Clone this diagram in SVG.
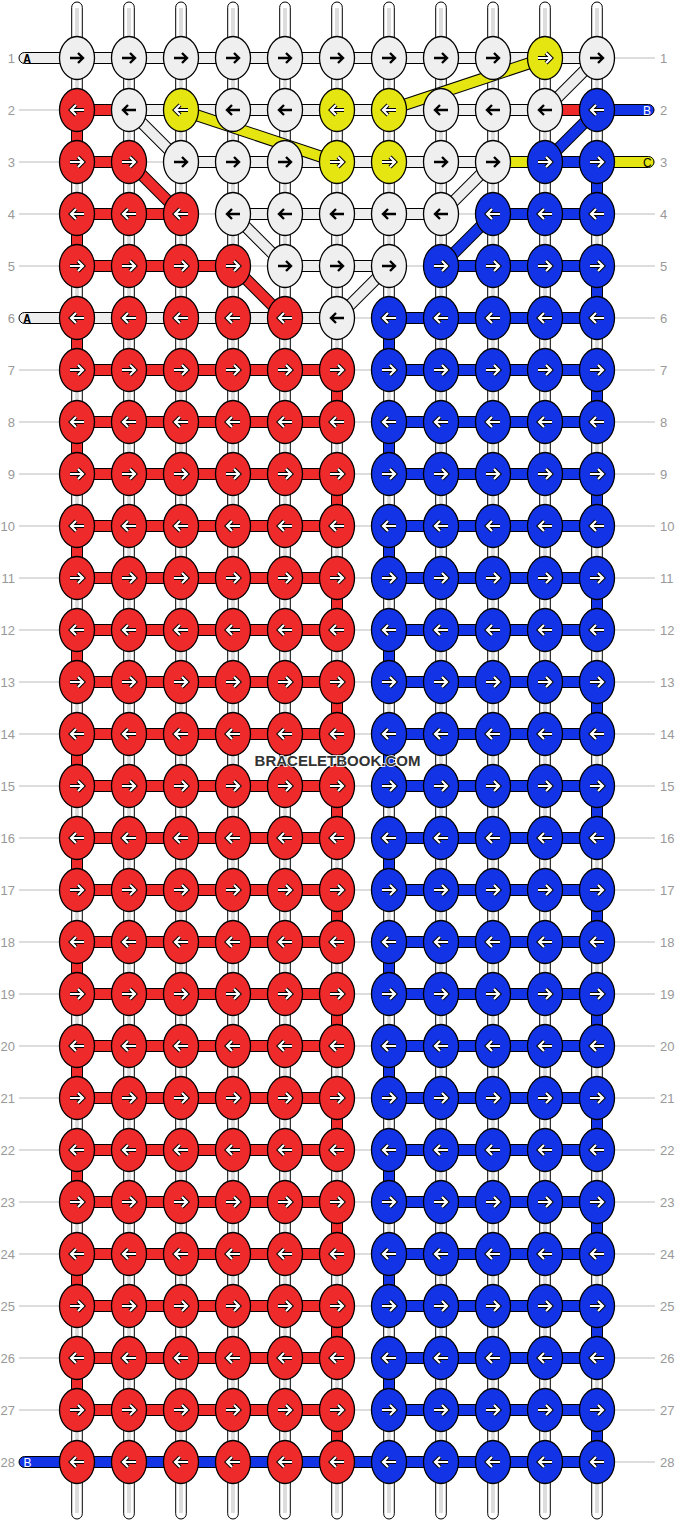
<svg xmlns="http://www.w3.org/2000/svg" xmlns:xlink="http://www.w3.org/1999/xlink" width="675" height="1521" viewBox="0 0 675 1521">
<style>
.warp{fill:#fff;stroke:#000;stroke-width:1}
.stripe{fill:#ddd}
.rowline{fill:none;stroke:#bbb;stroke-width:1}
.num{font-family:"Liberation Sans",Arial,sans-serif;font-size:13px;fill:#999}
.sw{fill:#eee;stroke:#000;stroke-width:1}
.sr{fill:#ee2a2a;stroke:#000;stroke-width:1}
.sb{fill:#1334e6;stroke:#000;stroke-width:1}
.sy{fill:#e5e512;stroke:#000;stroke-width:1}
.dout{fill:none;stroke:#000;stroke-width:12}
.dw{fill:none;stroke:#eee;stroke-width:10}
.dr{fill:none;stroke:#ee2a2a;stroke-width:10}
.db{fill:none;stroke:#1334e6;stroke-width:10}
.dy{fill:none;stroke:#e5e512;stroke-width:10}
.kw{fill:#efefef;stroke:#000;stroke-width:1.3}
.kr{fill:#ee2a2a;stroke:#000;stroke-width:1.3}
.kb{fill:#1334e6;stroke:#000;stroke-width:1.3}
.ky{fill:#e5e512;stroke:#000;stroke-width:1.3}
.ab{fill:none;stroke:#000;stroke-width:2.4}
.ao{fill:none;stroke:#000;stroke-width:4.2}
.aw{fill:none;stroke:#fff;stroke-width:2.2}
.lab{font-family:"Liberation Sans",Arial,sans-serif;font-size:12px}
.labm{font-family:"Liberation Mono","Courier New",monospace;font-size:12px;font-weight:bold}
</style>
<defs>
<path id="pR" d="M-7,0H6M1,-5L6,0L1,5"/>
<path id="pL" d="M7,0H-6M-1,-5L-6,0L-1,5"/>
<g id="WR"><ellipse class="kw" rx="17.5" ry="21.5"/><use href="#pR" class="ab"/></g>
<g id="WL"><ellipse class="kw" rx="17.5" ry="21.5"/><use href="#pL" class="ab"/></g>
<g id="RR"><ellipse class="kr" rx="17.5" ry="21.5"/><use href="#pR" class="ao"/><use href="#pR" class="aw"/></g>
<g id="RL"><ellipse class="kr" rx="17.5" ry="21.5"/><use href="#pL" class="ao"/><use href="#pL" class="aw"/></g>
<g id="BR"><ellipse class="kb" rx="17.5" ry="21.5"/><use href="#pR" class="ao"/><use href="#pR" class="aw"/></g>
<g id="BL"><ellipse class="kb" rx="17.5" ry="21.5"/><use href="#pL" class="ao"/><use href="#pL" class="aw"/></g>
<g id="YR"><ellipse class="ky" rx="17.5" ry="21.5"/><use href="#pR" class="ao"/><use href="#pR" class="aw"/></g>
<g id="YL"><ellipse class="ky" rx="17.5" ry="21.5"/><use href="#pL" class="ao"/><use href="#pL" class="aw"/></g>
</defs>
<rect width="675" height="1521" fill="#fff"/>
<g id="warps">
<rect class="warp" x="71.7" y="2" width="10.6" height="1517" rx="5.3"/><rect class="stripe" x="75" y="8" width="4" height="1505"/>
<rect class="warp" x="123.7" y="2" width="10.6" height="1517" rx="5.3"/><rect class="stripe" x="127" y="8" width="4" height="1505"/>
<rect class="warp" x="175.7" y="2" width="10.6" height="1517" rx="5.3"/><rect class="stripe" x="179" y="8" width="4" height="1505"/>
<rect class="warp" x="227.7" y="2" width="10.6" height="1517" rx="5.3"/><rect class="stripe" x="231" y="8" width="4" height="1505"/>
<rect class="warp" x="279.7" y="2" width="10.6" height="1517" rx="5.3"/><rect class="stripe" x="283" y="8" width="4" height="1505"/>
<rect class="warp" x="331.7" y="2" width="10.6" height="1517" rx="5.3"/><rect class="stripe" x="335" y="8" width="4" height="1505"/>
<rect class="warp" x="383.7" y="2" width="10.6" height="1517" rx="5.3"/><rect class="stripe" x="387" y="8" width="4" height="1505"/>
<rect class="warp" x="435.7" y="2" width="10.6" height="1517" rx="5.3"/><rect class="stripe" x="439" y="8" width="4" height="1505"/>
<rect class="warp" x="487.7" y="2" width="10.6" height="1517" rx="5.3"/><rect class="stripe" x="491" y="8" width="4" height="1505"/>
<rect class="warp" x="539.7" y="2" width="10.6" height="1517" rx="5.3"/><rect class="stripe" x="543" y="8" width="4" height="1505"/>
<rect class="warp" x="591.7" y="2" width="10.6" height="1517" rx="5.3"/><rect class="stripe" x="595" y="8" width="4" height="1505"/>
</g>
<g id="rows">
<path class="rowline" d="M19,58H655M19,110H655M19,162H655M19,214H655M19,266H655M19,318H655M19,370H655M19,422H655M19,474H655M19,526H655M19,578H655M19,630H655M19,682H655M19,734H655M19,786H655M19,838H655M19,890H655M19,942H655M19,994H655M19,1046H655M19,1098H655M19,1150H655M19,1202H655M19,1254H655M19,1306H655M19,1358H655M19,1410H655M19,1462H655"/>
<g class="num" text-anchor="end">
<text x="15" y="62.5">1</text><text x="15" y="114.5">2</text><text x="15" y="166.5">3</text><text x="15" y="218.5">4</text><text x="15" y="270.5">5</text><text x="15" y="322.5">6</text><text x="15" y="374.5">7</text><text x="15" y="426.5">8</text><text x="15" y="478.5">9</text><text x="15" y="530.5">10</text><text x="15" y="582.5">11</text><text x="15" y="634.5">12</text><text x="15" y="686.5">13</text><text x="15" y="738.5">14</text><text x="15" y="790.5">15</text><text x="15" y="842.5">16</text><text x="15" y="894.5">17</text><text x="15" y="946.5">18</text><text x="15" y="998.5">19</text><text x="15" y="1050.5">20</text><text x="15" y="1102.5">21</text><text x="15" y="1154.5">22</text><text x="15" y="1206.5">23</text><text x="15" y="1258.5">24</text><text x="15" y="1310.5">25</text><text x="15" y="1362.5">26</text><text x="15" y="1414.5">27</text><text x="15" y="1466.5">28</text>
</g>
<g class="num">
<text x="660" y="62.5">1</text><text x="660" y="114.5">2</text><text x="660" y="166.5">3</text><text x="660" y="218.5">4</text><text x="660" y="270.5">5</text><text x="660" y="322.5">6</text><text x="660" y="374.5">7</text><text x="660" y="426.5">8</text><text x="660" y="478.5">9</text><text x="660" y="530.5">10</text><text x="660" y="582.5">11</text><text x="660" y="634.5">12</text><text x="660" y="686.5">13</text><text x="660" y="738.5">14</text><text x="660" y="790.5">15</text><text x="660" y="842.5">16</text><text x="660" y="894.5">17</text><text x="660" y="946.5">18</text><text x="660" y="998.5">19</text><text x="660" y="1050.5">20</text><text x="660" y="1102.5">21</text><text x="660" y="1154.5">22</text><text x="660" y="1206.5">23</text><text x="660" y="1258.5">24</text><text x="660" y="1310.5">25</text><text x="660" y="1362.5">26</text><text x="660" y="1414.5">27</text><text x="660" y="1466.5">28</text>
</g>
</g>
<g id="connectors">
<g id="vertical-turns">
<rect class="sr" x="71.5" y="110" width="11" height="52"/><rect class="sr" x="71.5" y="214" width="11" height="52"/><rect class="sr" x="71.5" y="318" width="11" height="52"/><rect class="sr" x="71.5" y="422" width="11" height="52"/><rect class="sr" x="71.5" y="526" width="11" height="52"/><rect class="sr" x="71.5" y="630" width="11" height="52"/><rect class="sr" x="71.5" y="734" width="11" height="52"/><rect class="sr" x="71.5" y="838" width="11" height="52"/><rect class="sr" x="71.5" y="942" width="11" height="52"/><rect class="sr" x="71.5" y="1046" width="11" height="52"/><rect class="sr" x="71.5" y="1150" width="11" height="52"/><rect class="sr" x="71.5" y="1254" width="11" height="52"/><rect class="sr" x="71.5" y="1358" width="11" height="52"/>
<rect class="sr" x="331.5" y="370" width="11" height="52"/><rect class="sr" x="331.5" y="474" width="11" height="52"/><rect class="sr" x="331.5" y="578" width="11" height="52"/><rect class="sr" x="331.5" y="682" width="11" height="52"/><rect class="sr" x="331.5" y="786" width="11" height="52"/><rect class="sr" x="331.5" y="890" width="11" height="52"/><rect class="sr" x="331.5" y="994" width="11" height="52"/><rect class="sr" x="331.5" y="1098" width="11" height="52"/><rect class="sr" x="331.5" y="1202" width="11" height="52"/><rect class="sr" x="331.5" y="1306" width="11" height="52"/><rect class="sr" x="331.5" y="1410" width="11" height="52"/>
<rect class="sb" x="383.5" y="318" width="11" height="52"/><rect class="sb" x="383.5" y="422" width="11" height="52"/><rect class="sb" x="383.5" y="526" width="11" height="52"/><rect class="sb" x="383.5" y="630" width="11" height="52"/><rect class="sb" x="383.5" y="734" width="11" height="52"/><rect class="sb" x="383.5" y="838" width="11" height="52"/><rect class="sb" x="383.5" y="942" width="11" height="52"/><rect class="sb" x="383.5" y="1046" width="11" height="52"/><rect class="sb" x="383.5" y="1150" width="11" height="52"/><rect class="sb" x="383.5" y="1254" width="11" height="52"/><rect class="sb" x="383.5" y="1358" width="11" height="52"/>
<rect class="sb" x="591.5" y="162" width="11" height="52"/><rect class="sb" x="591.5" y="266" width="11" height="52"/><rect class="sb" x="591.5" y="370" width="11" height="52"/><rect class="sb" x="591.5" y="474" width="11" height="52"/><rect class="sb" x="591.5" y="578" width="11" height="52"/><rect class="sb" x="591.5" y="682" width="11" height="52"/><rect class="sb" x="591.5" y="786" width="11" height="52"/><rect class="sb" x="591.5" y="890" width="11" height="52"/><rect class="sb" x="591.5" y="994" width="11" height="52"/><rect class="sb" x="591.5" y="1098" width="11" height="52"/><rect class="sb" x="591.5" y="1202" width="11" height="52"/><rect class="sb" x="591.5" y="1306" width="11" height="52"/><rect class="sb" x="591.5" y="1410" width="11" height="52"/>
</g>
<g id="horizontal">
<rect class="sw" x="19" y="52.5" width="578" height="11" rx="5.5"/>
<rect class="sr" x="77" y="104.5" width="52" height="11"/><rect class="sw" x="129" y="104.5" width="416" height="11"/><rect class="sr" x="545" y="104.5" width="52" height="11"/><rect class="sb" x="590" y="104.5" width="64" height="11" rx="5.5"/>
<rect class="sr" x="77" y="156.5" width="52" height="11"/><rect class="sw" x="181" y="156.5" width="312" height="11"/><rect class="sy" x="493" y="156.5" width="52" height="11"/><rect class="sb" x="545" y="156.5" width="52" height="11"/><rect class="sy" x="590" y="156.5" width="64" height="11" rx="5.5"/>
<rect class="sr" x="77" y="208.5" width="104" height="11"/><rect class="sw" x="233" y="208.5" width="208" height="11"/><rect class="sb" x="493" y="208.5" width="104" height="11"/>
<rect class="sr" x="77" y="260.5" width="156" height="11"/><rect class="sw" x="285" y="260.5" width="104" height="11"/><rect class="sb" x="441" y="260.5" width="156" height="11"/>
<rect class="sw" x="19" y="312.5" width="318" height="11" rx="5.5"/><rect class="sb" x="389" y="312.5" width="208" height="11"/>
<rect class="sr" x="77" y="364.5" width="260" height="11"/><rect class="sb" x="389" y="364.5" width="208" height="11"/>
<rect class="sr" x="77" y="416.5" width="260" height="11"/><rect class="sb" x="389" y="416.5" width="208" height="11"/>
<rect class="sr" x="77" y="468.5" width="260" height="11"/><rect class="sb" x="389" y="468.5" width="208" height="11"/>
<rect class="sr" x="77" y="520.5" width="260" height="11"/><rect class="sb" x="389" y="520.5" width="208" height="11"/>
<rect class="sr" x="77" y="572.5" width="260" height="11"/><rect class="sb" x="389" y="572.5" width="208" height="11"/>
<rect class="sr" x="77" y="624.5" width="260" height="11"/><rect class="sb" x="389" y="624.5" width="208" height="11"/>
<rect class="sr" x="77" y="676.5" width="260" height="11"/><rect class="sb" x="389" y="676.5" width="208" height="11"/>
<rect class="sr" x="77" y="728.5" width="260" height="11"/><rect class="sb" x="389" y="728.5" width="208" height="11"/>
<rect class="sr" x="77" y="780.5" width="260" height="11"/><rect class="sb" x="389" y="780.5" width="208" height="11"/>
<rect class="sr" x="77" y="832.5" width="260" height="11"/><rect class="sb" x="389" y="832.5" width="208" height="11"/>
<rect class="sr" x="77" y="884.5" width="260" height="11"/><rect class="sb" x="389" y="884.5" width="208" height="11"/>
<rect class="sr" x="77" y="936.5" width="260" height="11"/><rect class="sb" x="389" y="936.5" width="208" height="11"/>
<rect class="sr" x="77" y="988.5" width="260" height="11"/><rect class="sb" x="389" y="988.5" width="208" height="11"/>
<rect class="sr" x="77" y="1040.5" width="260" height="11"/><rect class="sb" x="389" y="1040.5" width="208" height="11"/>
<rect class="sr" x="77" y="1092.5" width="260" height="11"/><rect class="sb" x="389" y="1092.5" width="208" height="11"/>
<rect class="sr" x="77" y="1144.5" width="260" height="11"/><rect class="sb" x="389" y="1144.5" width="208" height="11"/>
<rect class="sr" x="77" y="1196.5" width="260" height="11"/><rect class="sb" x="389" y="1196.5" width="208" height="11"/>
<rect class="sr" x="77" y="1248.5" width="260" height="11"/><rect class="sb" x="389" y="1248.5" width="208" height="11"/>
<rect class="sr" x="77" y="1300.5" width="260" height="11"/><rect class="sb" x="389" y="1300.5" width="208" height="11"/>
<rect class="sr" x="77" y="1352.5" width="260" height="11"/><rect class="sb" x="389" y="1352.5" width="208" height="11"/>
<rect class="sr" x="77" y="1404.5" width="260" height="11"/><rect class="sb" x="389" y="1404.5" width="208" height="11"/>
<rect class="sb" x="19" y="1456.5" width="578" height="11" rx="5.5"/>
</g>
<g id="diagonals">
<path class="dout" d="M597,58L545,110M129,110L181,162M493,162L441,214M233,214L285,266M389,266L337,318M545,58L389,110M181,110L337,162M129,162L181,214M233,266L285,318M597,110L545,162M493,214L441,266"/>
<path class="dw" d="M597,58L545,110M129,110L181,162M493,162L441,214M233,214L285,266M389,266L337,318"/>
<path class="dy" d="M545,58L389,110M181,110L337,162"/>
<path class="dr" d="M129,162L181,214M233,266L285,318"/>
<path class="db" d="M597,110L545,162M493,214L441,266"/>
</g>
<g id="string-labels">
<text class="labm" x="23.5" y="62.5">A</text>
<text class="lab" x="643" y="114.5" fill="#fff">B</text>
<text class="lab" x="643" y="166.5" fill="#000">C</text>
<text class="labm" x="23.5" y="322.5">A</text>
<text class="lab" x="23.5" y="1466.5" fill="#fff">B</text>
</g>
</g>
<g id="knots">
<g id="k1-1" transform="translate(77,58)"><use href="#WR"/></g><g id="k1-2" transform="translate(129,58)"><use href="#WR"/></g><g id="k1-3" transform="translate(181,58)"><use href="#WR"/></g><g id="k1-4" transform="translate(233,58)"><use href="#WR"/></g><g id="k1-5" transform="translate(285,58)"><use href="#WR"/></g><g id="k1-6" transform="translate(337,58)"><use href="#WR"/></g><g id="k1-7" transform="translate(389,58)"><use href="#WR"/></g><g id="k1-8" transform="translate(441,58)"><use href="#WR"/></g><g id="k1-9" transform="translate(493,58)"><use href="#WR"/></g><g id="k1-10" transform="translate(545,58)"><use href="#YR"/></g><g id="k1-11" transform="translate(597,58)"><use href="#WR"/></g>
<g id="k2-1" transform="translate(77,110)"><use href="#RL"/></g><g id="k2-2" transform="translate(129,110)"><use href="#WL"/></g><g id="k2-3" transform="translate(181,110)"><use href="#YL"/></g><g id="k2-4" transform="translate(233,110)"><use href="#WL"/></g><g id="k2-5" transform="translate(285,110)"><use href="#WL"/></g><g id="k2-6" transform="translate(337,110)"><use href="#YL"/></g><g id="k2-7" transform="translate(389,110)"><use href="#YL"/></g><g id="k2-8" transform="translate(441,110)"><use href="#WL"/></g><g id="k2-9" transform="translate(493,110)"><use href="#WL"/></g><g id="k2-10" transform="translate(545,110)"><use href="#WL"/></g><g id="k2-11" transform="translate(597,110)"><use href="#BL"/></g>
<g id="k3-1" transform="translate(77,162)"><use href="#RR"/></g><g id="k3-2" transform="translate(129,162)"><use href="#RR"/></g><g id="k3-3" transform="translate(181,162)"><use href="#WR"/></g><g id="k3-4" transform="translate(233,162)"><use href="#WR"/></g><g id="k3-5" transform="translate(285,162)"><use href="#WR"/></g><g id="k3-6" transform="translate(337,162)"><use href="#YR"/></g><g id="k3-7" transform="translate(389,162)"><use href="#YR"/></g><g id="k3-8" transform="translate(441,162)"><use href="#WR"/></g><g id="k3-9" transform="translate(493,162)"><use href="#WR"/></g><g id="k3-10" transform="translate(545,162)"><use href="#BR"/></g><g id="k3-11" transform="translate(597,162)"><use href="#BR"/></g>
<g id="k4-1" transform="translate(77,214)"><use href="#RL"/></g><g id="k4-2" transform="translate(129,214)"><use href="#RL"/></g><g id="k4-3" transform="translate(181,214)"><use href="#RL"/></g><g id="k4-4" transform="translate(233,214)"><use href="#WL"/></g><g id="k4-5" transform="translate(285,214)"><use href="#WL"/></g><g id="k4-6" transform="translate(337,214)"><use href="#WL"/></g><g id="k4-7" transform="translate(389,214)"><use href="#WL"/></g><g id="k4-8" transform="translate(441,214)"><use href="#WL"/></g><g id="k4-9" transform="translate(493,214)"><use href="#BL"/></g><g id="k4-10" transform="translate(545,214)"><use href="#BL"/></g><g id="k4-11" transform="translate(597,214)"><use href="#BL"/></g>
<g id="k5-1" transform="translate(77,266)"><use href="#RR"/></g><g id="k5-2" transform="translate(129,266)"><use href="#RR"/></g><g id="k5-3" transform="translate(181,266)"><use href="#RR"/></g><g id="k5-4" transform="translate(233,266)"><use href="#RR"/></g><g id="k5-5" transform="translate(285,266)"><use href="#WR"/></g><g id="k5-6" transform="translate(337,266)"><use href="#WR"/></g><g id="k5-7" transform="translate(389,266)"><use href="#WR"/></g><g id="k5-8" transform="translate(441,266)"><use href="#BR"/></g><g id="k5-9" transform="translate(493,266)"><use href="#BR"/></g><g id="k5-10" transform="translate(545,266)"><use href="#BR"/></g><g id="k5-11" transform="translate(597,266)"><use href="#BR"/></g>
<g id="k6-1" transform="translate(77,318)"><use href="#RL"/></g><g id="k6-2" transform="translate(129,318)"><use href="#RL"/></g><g id="k6-3" transform="translate(181,318)"><use href="#RL"/></g><g id="k6-4" transform="translate(233,318)"><use href="#RL"/></g><g id="k6-5" transform="translate(285,318)"><use href="#RL"/></g><g id="k6-6" transform="translate(337,318)"><use href="#WL"/></g><g id="k6-7" transform="translate(389,318)"><use href="#BL"/></g><g id="k6-8" transform="translate(441,318)"><use href="#BL"/></g><g id="k6-9" transform="translate(493,318)"><use href="#BL"/></g><g id="k6-10" transform="translate(545,318)"><use href="#BL"/></g><g id="k6-11" transform="translate(597,318)"><use href="#BL"/></g>
<g id="k7-1" transform="translate(77,370)"><use href="#RR"/></g><g id="k7-2" transform="translate(129,370)"><use href="#RR"/></g><g id="k7-3" transform="translate(181,370)"><use href="#RR"/></g><g id="k7-4" transform="translate(233,370)"><use href="#RR"/></g><g id="k7-5" transform="translate(285,370)"><use href="#RR"/></g><g id="k7-6" transform="translate(337,370)"><use href="#RR"/></g><g id="k7-7" transform="translate(389,370)"><use href="#BR"/></g><g id="k7-8" transform="translate(441,370)"><use href="#BR"/></g><g id="k7-9" transform="translate(493,370)"><use href="#BR"/></g><g id="k7-10" transform="translate(545,370)"><use href="#BR"/></g><g id="k7-11" transform="translate(597,370)"><use href="#BR"/></g>
<g id="k8-1" transform="translate(77,422)"><use href="#RL"/></g><g id="k8-2" transform="translate(129,422)"><use href="#RL"/></g><g id="k8-3" transform="translate(181,422)"><use href="#RL"/></g><g id="k8-4" transform="translate(233,422)"><use href="#RL"/></g><g id="k8-5" transform="translate(285,422)"><use href="#RL"/></g><g id="k8-6" transform="translate(337,422)"><use href="#RL"/></g><g id="k8-7" transform="translate(389,422)"><use href="#BL"/></g><g id="k8-8" transform="translate(441,422)"><use href="#BL"/></g><g id="k8-9" transform="translate(493,422)"><use href="#BL"/></g><g id="k8-10" transform="translate(545,422)"><use href="#BL"/></g><g id="k8-11" transform="translate(597,422)"><use href="#BL"/></g>
<g id="k9-1" transform="translate(77,474)"><use href="#RR"/></g><g id="k9-2" transform="translate(129,474)"><use href="#RR"/></g><g id="k9-3" transform="translate(181,474)"><use href="#RR"/></g><g id="k9-4" transform="translate(233,474)"><use href="#RR"/></g><g id="k9-5" transform="translate(285,474)"><use href="#RR"/></g><g id="k9-6" transform="translate(337,474)"><use href="#RR"/></g><g id="k9-7" transform="translate(389,474)"><use href="#BR"/></g><g id="k9-8" transform="translate(441,474)"><use href="#BR"/></g><g id="k9-9" transform="translate(493,474)"><use href="#BR"/></g><g id="k9-10" transform="translate(545,474)"><use href="#BR"/></g><g id="k9-11" transform="translate(597,474)"><use href="#BR"/></g>
<g id="k10-1" transform="translate(77,526)"><use href="#RL"/></g><g id="k10-2" transform="translate(129,526)"><use href="#RL"/></g><g id="k10-3" transform="translate(181,526)"><use href="#RL"/></g><g id="k10-4" transform="translate(233,526)"><use href="#RL"/></g><g id="k10-5" transform="translate(285,526)"><use href="#RL"/></g><g id="k10-6" transform="translate(337,526)"><use href="#RL"/></g><g id="k10-7" transform="translate(389,526)"><use href="#BL"/></g><g id="k10-8" transform="translate(441,526)"><use href="#BL"/></g><g id="k10-9" transform="translate(493,526)"><use href="#BL"/></g><g id="k10-10" transform="translate(545,526)"><use href="#BL"/></g><g id="k10-11" transform="translate(597,526)"><use href="#BL"/></g>
<g id="k11-1" transform="translate(77,578)"><use href="#RR"/></g><g id="k11-2" transform="translate(129,578)"><use href="#RR"/></g><g id="k11-3" transform="translate(181,578)"><use href="#RR"/></g><g id="k11-4" transform="translate(233,578)"><use href="#RR"/></g><g id="k11-5" transform="translate(285,578)"><use href="#RR"/></g><g id="k11-6" transform="translate(337,578)"><use href="#RR"/></g><g id="k11-7" transform="translate(389,578)"><use href="#BR"/></g><g id="k11-8" transform="translate(441,578)"><use href="#BR"/></g><g id="k11-9" transform="translate(493,578)"><use href="#BR"/></g><g id="k11-10" transform="translate(545,578)"><use href="#BR"/></g><g id="k11-11" transform="translate(597,578)"><use href="#BR"/></g>
<g id="k12-1" transform="translate(77,630)"><use href="#RL"/></g><g id="k12-2" transform="translate(129,630)"><use href="#RL"/></g><g id="k12-3" transform="translate(181,630)"><use href="#RL"/></g><g id="k12-4" transform="translate(233,630)"><use href="#RL"/></g><g id="k12-5" transform="translate(285,630)"><use href="#RL"/></g><g id="k12-6" transform="translate(337,630)"><use href="#RL"/></g><g id="k12-7" transform="translate(389,630)"><use href="#BL"/></g><g id="k12-8" transform="translate(441,630)"><use href="#BL"/></g><g id="k12-9" transform="translate(493,630)"><use href="#BL"/></g><g id="k12-10" transform="translate(545,630)"><use href="#BL"/></g><g id="k12-11" transform="translate(597,630)"><use href="#BL"/></g>
<g id="k13-1" transform="translate(77,682)"><use href="#RR"/></g><g id="k13-2" transform="translate(129,682)"><use href="#RR"/></g><g id="k13-3" transform="translate(181,682)"><use href="#RR"/></g><g id="k13-4" transform="translate(233,682)"><use href="#RR"/></g><g id="k13-5" transform="translate(285,682)"><use href="#RR"/></g><g id="k13-6" transform="translate(337,682)"><use href="#RR"/></g><g id="k13-7" transform="translate(389,682)"><use href="#BR"/></g><g id="k13-8" transform="translate(441,682)"><use href="#BR"/></g><g id="k13-9" transform="translate(493,682)"><use href="#BR"/></g><g id="k13-10" transform="translate(545,682)"><use href="#BR"/></g><g id="k13-11" transform="translate(597,682)"><use href="#BR"/></g>
<g id="k14-1" transform="translate(77,734)"><use href="#RL"/></g><g id="k14-2" transform="translate(129,734)"><use href="#RL"/></g><g id="k14-3" transform="translate(181,734)"><use href="#RL"/></g><g id="k14-4" transform="translate(233,734)"><use href="#RL"/></g><g id="k14-5" transform="translate(285,734)"><use href="#RL"/></g><g id="k14-6" transform="translate(337,734)"><use href="#RL"/></g><g id="k14-7" transform="translate(389,734)"><use href="#BL"/></g><g id="k14-8" transform="translate(441,734)"><use href="#BL"/></g><g id="k14-9" transform="translate(493,734)"><use href="#BL"/></g><g id="k14-10" transform="translate(545,734)"><use href="#BL"/></g><g id="k14-11" transform="translate(597,734)"><use href="#BL"/></g>
<g id="k15-1" transform="translate(77,786)"><use href="#RR"/></g><g id="k15-2" transform="translate(129,786)"><use href="#RR"/></g><g id="k15-3" transform="translate(181,786)"><use href="#RR"/></g><g id="k15-4" transform="translate(233,786)"><use href="#RR"/></g><g id="k15-5" transform="translate(285,786)"><use href="#RR"/></g><g id="k15-6" transform="translate(337,786)"><use href="#RR"/></g><g id="k15-7" transform="translate(389,786)"><use href="#BR"/></g><g id="k15-8" transform="translate(441,786)"><use href="#BR"/></g><g id="k15-9" transform="translate(493,786)"><use href="#BR"/></g><g id="k15-10" transform="translate(545,786)"><use href="#BR"/></g><g id="k15-11" transform="translate(597,786)"><use href="#BR"/></g>
<g id="k16-1" transform="translate(77,838)"><use href="#RL"/></g><g id="k16-2" transform="translate(129,838)"><use href="#RL"/></g><g id="k16-3" transform="translate(181,838)"><use href="#RL"/></g><g id="k16-4" transform="translate(233,838)"><use href="#RL"/></g><g id="k16-5" transform="translate(285,838)"><use href="#RL"/></g><g id="k16-6" transform="translate(337,838)"><use href="#RL"/></g><g id="k16-7" transform="translate(389,838)"><use href="#BL"/></g><g id="k16-8" transform="translate(441,838)"><use href="#BL"/></g><g id="k16-9" transform="translate(493,838)"><use href="#BL"/></g><g id="k16-10" transform="translate(545,838)"><use href="#BL"/></g><g id="k16-11" transform="translate(597,838)"><use href="#BL"/></g>
<g id="k17-1" transform="translate(77,890)"><use href="#RR"/></g><g id="k17-2" transform="translate(129,890)"><use href="#RR"/></g><g id="k17-3" transform="translate(181,890)"><use href="#RR"/></g><g id="k17-4" transform="translate(233,890)"><use href="#RR"/></g><g id="k17-5" transform="translate(285,890)"><use href="#RR"/></g><g id="k17-6" transform="translate(337,890)"><use href="#RR"/></g><g id="k17-7" transform="translate(389,890)"><use href="#BR"/></g><g id="k17-8" transform="translate(441,890)"><use href="#BR"/></g><g id="k17-9" transform="translate(493,890)"><use href="#BR"/></g><g id="k17-10" transform="translate(545,890)"><use href="#BR"/></g><g id="k17-11" transform="translate(597,890)"><use href="#BR"/></g>
<g id="k18-1" transform="translate(77,942)"><use href="#RL"/></g><g id="k18-2" transform="translate(129,942)"><use href="#RL"/></g><g id="k18-3" transform="translate(181,942)"><use href="#RL"/></g><g id="k18-4" transform="translate(233,942)"><use href="#RL"/></g><g id="k18-5" transform="translate(285,942)"><use href="#RL"/></g><g id="k18-6" transform="translate(337,942)"><use href="#RL"/></g><g id="k18-7" transform="translate(389,942)"><use href="#BL"/></g><g id="k18-8" transform="translate(441,942)"><use href="#BL"/></g><g id="k18-9" transform="translate(493,942)"><use href="#BL"/></g><g id="k18-10" transform="translate(545,942)"><use href="#BL"/></g><g id="k18-11" transform="translate(597,942)"><use href="#BL"/></g>
<g id="k19-1" transform="translate(77,994)"><use href="#RR"/></g><g id="k19-2" transform="translate(129,994)"><use href="#RR"/></g><g id="k19-3" transform="translate(181,994)"><use href="#RR"/></g><g id="k19-4" transform="translate(233,994)"><use href="#RR"/></g><g id="k19-5" transform="translate(285,994)"><use href="#RR"/></g><g id="k19-6" transform="translate(337,994)"><use href="#RR"/></g><g id="k19-7" transform="translate(389,994)"><use href="#BR"/></g><g id="k19-8" transform="translate(441,994)"><use href="#BR"/></g><g id="k19-9" transform="translate(493,994)"><use href="#BR"/></g><g id="k19-10" transform="translate(545,994)"><use href="#BR"/></g><g id="k19-11" transform="translate(597,994)"><use href="#BR"/></g>
<g id="k20-1" transform="translate(77,1046)"><use href="#RL"/></g><g id="k20-2" transform="translate(129,1046)"><use href="#RL"/></g><g id="k20-3" transform="translate(181,1046)"><use href="#RL"/></g><g id="k20-4" transform="translate(233,1046)"><use href="#RL"/></g><g id="k20-5" transform="translate(285,1046)"><use href="#RL"/></g><g id="k20-6" transform="translate(337,1046)"><use href="#RL"/></g><g id="k20-7" transform="translate(389,1046)"><use href="#BL"/></g><g id="k20-8" transform="translate(441,1046)"><use href="#BL"/></g><g id="k20-9" transform="translate(493,1046)"><use href="#BL"/></g><g id="k20-10" transform="translate(545,1046)"><use href="#BL"/></g><g id="k20-11" transform="translate(597,1046)"><use href="#BL"/></g>
<g id="k21-1" transform="translate(77,1098)"><use href="#RR"/></g><g id="k21-2" transform="translate(129,1098)"><use href="#RR"/></g><g id="k21-3" transform="translate(181,1098)"><use href="#RR"/></g><g id="k21-4" transform="translate(233,1098)"><use href="#RR"/></g><g id="k21-5" transform="translate(285,1098)"><use href="#RR"/></g><g id="k21-6" transform="translate(337,1098)"><use href="#RR"/></g><g id="k21-7" transform="translate(389,1098)"><use href="#BR"/></g><g id="k21-8" transform="translate(441,1098)"><use href="#BR"/></g><g id="k21-9" transform="translate(493,1098)"><use href="#BR"/></g><g id="k21-10" transform="translate(545,1098)"><use href="#BR"/></g><g id="k21-11" transform="translate(597,1098)"><use href="#BR"/></g>
<g id="k22-1" transform="translate(77,1150)"><use href="#RL"/></g><g id="k22-2" transform="translate(129,1150)"><use href="#RL"/></g><g id="k22-3" transform="translate(181,1150)"><use href="#RL"/></g><g id="k22-4" transform="translate(233,1150)"><use href="#RL"/></g><g id="k22-5" transform="translate(285,1150)"><use href="#RL"/></g><g id="k22-6" transform="translate(337,1150)"><use href="#RL"/></g><g id="k22-7" transform="translate(389,1150)"><use href="#BL"/></g><g id="k22-8" transform="translate(441,1150)"><use href="#BL"/></g><g id="k22-9" transform="translate(493,1150)"><use href="#BL"/></g><g id="k22-10" transform="translate(545,1150)"><use href="#BL"/></g><g id="k22-11" transform="translate(597,1150)"><use href="#BL"/></g>
<g id="k23-1" transform="translate(77,1202)"><use href="#RR"/></g><g id="k23-2" transform="translate(129,1202)"><use href="#RR"/></g><g id="k23-3" transform="translate(181,1202)"><use href="#RR"/></g><g id="k23-4" transform="translate(233,1202)"><use href="#RR"/></g><g id="k23-5" transform="translate(285,1202)"><use href="#RR"/></g><g id="k23-6" transform="translate(337,1202)"><use href="#RR"/></g><g id="k23-7" transform="translate(389,1202)"><use href="#BR"/></g><g id="k23-8" transform="translate(441,1202)"><use href="#BR"/></g><g id="k23-9" transform="translate(493,1202)"><use href="#BR"/></g><g id="k23-10" transform="translate(545,1202)"><use href="#BR"/></g><g id="k23-11" transform="translate(597,1202)"><use href="#BR"/></g>
<g id="k24-1" transform="translate(77,1254)"><use href="#RL"/></g><g id="k24-2" transform="translate(129,1254)"><use href="#RL"/></g><g id="k24-3" transform="translate(181,1254)"><use href="#RL"/></g><g id="k24-4" transform="translate(233,1254)"><use href="#RL"/></g><g id="k24-5" transform="translate(285,1254)"><use href="#RL"/></g><g id="k24-6" transform="translate(337,1254)"><use href="#RL"/></g><g id="k24-7" transform="translate(389,1254)"><use href="#BL"/></g><g id="k24-8" transform="translate(441,1254)"><use href="#BL"/></g><g id="k24-9" transform="translate(493,1254)"><use href="#BL"/></g><g id="k24-10" transform="translate(545,1254)"><use href="#BL"/></g><g id="k24-11" transform="translate(597,1254)"><use href="#BL"/></g>
<g id="k25-1" transform="translate(77,1306)"><use href="#RR"/></g><g id="k25-2" transform="translate(129,1306)"><use href="#RR"/></g><g id="k25-3" transform="translate(181,1306)"><use href="#RR"/></g><g id="k25-4" transform="translate(233,1306)"><use href="#RR"/></g><g id="k25-5" transform="translate(285,1306)"><use href="#RR"/></g><g id="k25-6" transform="translate(337,1306)"><use href="#RR"/></g><g id="k25-7" transform="translate(389,1306)"><use href="#BR"/></g><g id="k25-8" transform="translate(441,1306)"><use href="#BR"/></g><g id="k25-9" transform="translate(493,1306)"><use href="#BR"/></g><g id="k25-10" transform="translate(545,1306)"><use href="#BR"/></g><g id="k25-11" transform="translate(597,1306)"><use href="#BR"/></g>
<g id="k26-1" transform="translate(77,1358)"><use href="#RL"/></g><g id="k26-2" transform="translate(129,1358)"><use href="#RL"/></g><g id="k26-3" transform="translate(181,1358)"><use href="#RL"/></g><g id="k26-4" transform="translate(233,1358)"><use href="#RL"/></g><g id="k26-5" transform="translate(285,1358)"><use href="#RL"/></g><g id="k26-6" transform="translate(337,1358)"><use href="#RL"/></g><g id="k26-7" transform="translate(389,1358)"><use href="#BL"/></g><g id="k26-8" transform="translate(441,1358)"><use href="#BL"/></g><g id="k26-9" transform="translate(493,1358)"><use href="#BL"/></g><g id="k26-10" transform="translate(545,1358)"><use href="#BL"/></g><g id="k26-11" transform="translate(597,1358)"><use href="#BL"/></g>
<g id="k27-1" transform="translate(77,1410)"><use href="#RR"/></g><g id="k27-2" transform="translate(129,1410)"><use href="#RR"/></g><g id="k27-3" transform="translate(181,1410)"><use href="#RR"/></g><g id="k27-4" transform="translate(233,1410)"><use href="#RR"/></g><g id="k27-5" transform="translate(285,1410)"><use href="#RR"/></g><g id="k27-6" transform="translate(337,1410)"><use href="#RR"/></g><g id="k27-7" transform="translate(389,1410)"><use href="#BR"/></g><g id="k27-8" transform="translate(441,1410)"><use href="#BR"/></g><g id="k27-9" transform="translate(493,1410)"><use href="#BR"/></g><g id="k27-10" transform="translate(545,1410)"><use href="#BR"/></g><g id="k27-11" transform="translate(597,1410)"><use href="#BR"/></g>
<g id="k28-1" transform="translate(77,1462)"><use href="#RL"/></g><g id="k28-2" transform="translate(129,1462)"><use href="#RL"/></g><g id="k28-3" transform="translate(181,1462)"><use href="#RL"/></g><g id="k28-4" transform="translate(233,1462)"><use href="#RL"/></g><g id="k28-5" transform="translate(285,1462)"><use href="#RL"/></g><g id="k28-6" transform="translate(337,1462)"><use href="#RL"/></g><g id="k28-7" transform="translate(389,1462)"><use href="#BL"/></g><g id="k28-8" transform="translate(441,1462)"><use href="#BL"/></g><g id="k28-9" transform="translate(493,1462)"><use href="#BL"/></g><g id="k28-10" transform="translate(545,1462)"><use href="#BL"/></g><g id="k28-11" transform="translate(597,1462)"><use href="#BL"/></g>
</g>
<text id="watermark" x="337.5" y="766" text-anchor="middle" font-family="Liberation Sans, Arial, sans-serif" font-weight="bold" font-size="15" fill="#333" stroke="#fff" stroke-width="1.5" paint-order="stroke">BRACELETBOOK.COM</text>
</svg>
